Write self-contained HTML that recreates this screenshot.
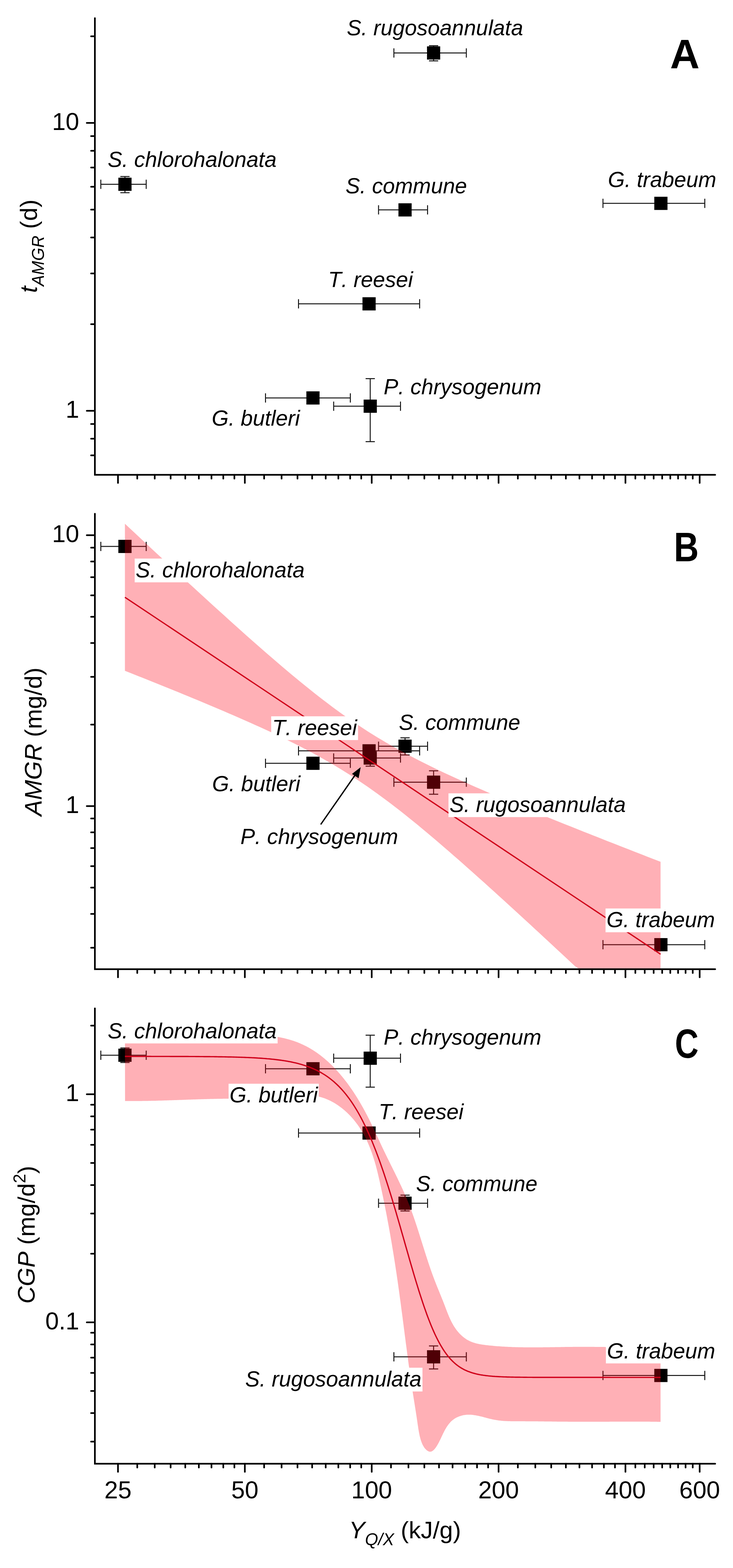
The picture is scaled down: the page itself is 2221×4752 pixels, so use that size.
<!DOCTYPE html>
<html><head><meta charset="utf-8"><title>Figure</title>
<style>html,body{margin:0;padding:0;background:#fff;}svg{display:block;}</style>
</head><body>
<svg width="2221" height="4752" viewBox="0 0 2221 4752" font-family="'Liberation Sans', Arial, sans-serif" style="font-kerning:none">
<rect width="2221" height="4752" fill="#fff"/>
<path d="M1193.5,160.5 H1413.0 M1193.5,146.5 v28 M1413.0,146.5 v28 M1313.8,138.5 V184.5 M1299.8,138.5 h28 M1299.8,184.5 h28" stroke="#1a1a1a" stroke-width="3.0" fill="none"/>
<rect x="1293.8" y="140.5" width="40" height="40" fill="#000"/>
<path d="M305.5,558.5 H443.0 M305.5,544.5 v28 M443.0,544.5 v28 M378.6,535.0 V584.0 M364.6,535.0 h28 M364.6,584.0 h28" stroke="#1a1a1a" stroke-width="3.0" fill="none"/>
<rect x="358.6" y="538.5" width="40" height="40" fill="#000"/>
<path d="M1147.0,636.1 H1295.5 M1147.0,622.1 v28 M1295.5,622.1 v28" stroke="#1a1a1a" stroke-width="3.0" fill="none"/>
<rect x="1207.3" y="616.1" width="40" height="40" fill="#000"/>
<path d="M1827.0,616.3 H2135.5 M1827.0,602.3 v28 M2135.5,602.3 v28" stroke="#1a1a1a" stroke-width="3.0" fill="none"/>
<rect x="1982.5" y="596.3" width="40" height="40" fill="#000"/>
<path d="M904.5,920.8 H1271.5 M904.5,906.8 v28 M1271.5,906.8 v28" stroke="#1a1a1a" stroke-width="3.0" fill="none"/>
<rect x="1098.3" y="900.8" width="40" height="40" fill="#000"/>
<path d="M804.5,1206.0 H1061.5 M804.5,1192.0 v28 M1061.5,1192.0 v28" stroke="#1a1a1a" stroke-width="3.0" fill="none"/>
<rect x="928.3" y="1186.0" width="40" height="40" fill="#000"/>
<path d="M1011.0,1231.0 H1213.5 M1011.0,1217.0 v28 M1213.5,1217.0 v28 M1121.8,1147.5 V1338.6 M1107.8,1147.5 h28 M1107.8,1338.6 h28" stroke="#1a1a1a" stroke-width="3.0" fill="none"/>
<rect x="1101.8" y="1211.0" width="40" height="40" fill="#000"/>
<text x="1050.8" y="107.0" font-style="italic" font-size="66.5" textLength="534.2" lengthAdjust="spacingAndGlyphs">S. rugosoannulata</text>
<text x="326.2" y="506.2" font-style="italic" font-size="66.5" textLength="512.0" lengthAdjust="spacingAndGlyphs">S. chlorohalonata</text>
<text x="1047.1" y="586.4" font-style="italic" font-size="66.5" textLength="368.0" lengthAdjust="spacingAndGlyphs">S. commune</text>
<text x="1842.0" y="567.3" font-style="italic" font-size="66.5" textLength="328.4" lengthAdjust="spacingAndGlyphs">G. trabeum</text>
<text x="994.2" y="870.3" font-style="italic" font-size="66.5" textLength="257.1" lengthAdjust="spacingAndGlyphs">T. reesei</text>
<text x="1162.6" y="1195.3" font-style="italic" font-size="66.5" textLength="477.8" lengthAdjust="spacingAndGlyphs">P. chrysogenum</text>
<text x="641.4" y="1289.8" font-style="italic" font-size="66.5" textLength="267.3" lengthAdjust="spacingAndGlyphs">G. butleri</text>
<path d="M287.5,55.0 V1439.0 H2167.0" fill="none" stroke="#000" stroke-width="5.0" stroke-linecap="round" stroke-linejoin="miter"/>
<path d="M357.5,1439.0 v24.5 M741.9,1439.0 v24.5 M1126.3,1439.0 v24.5 M1510.7,1439.0 v24.5 M1895.1,1439.0 v24.5 M2120.0,1439.0 v24.5 M415.9,1439.0 v11.5 M468.8,1439.0 v11.5 M517.0,1439.0 v11.5 M561.4,1439.0 v11.5 M602.5,1439.0 v11.5 M640.8,1439.0 v11.5 M676.6,1439.0 v11.5 M710.2,1439.0 v11.5 M800.3,1439.0 v11.5 M853.2,1439.0 v11.5 M901.4,1439.0 v11.5 M945.8,1439.0 v11.5 M986.9,1439.0 v11.5 M1025.2,1439.0 v11.5 M1061.0,1439.0 v11.5 M1094.6,1439.0 v11.5 M1184.7,1439.0 v11.5 M1237.6,1439.0 v11.5 M1285.8,1439.0 v11.5 M1330.2,1439.0 v11.5 M1371.3,1439.0 v11.5 M1409.6,1439.0 v11.5 M1445.4,1439.0 v11.5 M1479.0,1439.0 v11.5 M1569.1,1439.0 v11.5 M1622.0,1439.0 v11.5 M1670.2,1439.0 v11.5 M1714.6,1439.0 v11.5 M1755.7,1439.0 v11.5 M1794.0,1439.0 v11.5 M1829.8,1439.0 v11.5 M1863.4,1439.0 v11.5 M1925.1,1439.0 v11.5 M1953.5,1439.0 v11.5 M1980.6,1439.0 v11.5 M2006.4,1439.0 v11.5 M2031.0,1439.0 v11.5 M2054.6,1439.0 v11.5 M2077.3,1439.0 v11.5 M2099.0,1439.0 v11.5 M287.5,1380.1 h-11.5 M287.5,1329.5 h-11.5 M287.5,1284.9 h-11.5 M287.5,1245.0 h-24.5 M287.5,982.4 h-11.5 M287.5,828.8 h-11.5 M287.5,719.8 h-11.5 M287.5,635.2 h-11.5 M287.5,566.1 h-11.5 M287.5,507.7 h-11.5 M287.5,457.1 h-11.5 M287.5,412.5 h-11.5 M287.5,372.6 h-24.5 M287.5,110.0 h-11.5" stroke="#000" stroke-width="5.0" stroke-linecap="round" fill="none"/>
<text x="240" y="393.6" text-anchor="end" font-size="74">10</text>
<text x="240" y="1266.0" text-anchor="end" font-size="74">1</text>
<path d="M305.5,1656.0 H443.0 M305.5,1642.0 v28 M443.0,1642.0 v28" stroke="#1a1a1a" stroke-width="3.0" fill="none"/>
<rect x="358.6" y="1636.0" width="40" height="40" fill="#000"/>
<path d="M804.5,2313.2 H1061.5 M804.5,2299.2 v28 M1061.5,2299.2 v28" stroke="#1a1a1a" stroke-width="3.0" fill="none"/>
<rect x="928.3" y="2293.2" width="40" height="40" fill="#000"/>
<path d="M1147.0,2261.5 H1295.5 M1147.0,2247.5 v28 M1295.5,2247.5 v28 M1227.3,2236.0 V2288.0 M1213.3,2236.0 h28 M1213.3,2288.0 h28" stroke="#1a1a1a" stroke-width="3.0" fill="none"/>
<rect x="1207.3" y="2241.5" width="40" height="40" fill="#000"/>
<path d="M1193.5,2370.5 H1413.0 M1193.5,2356.5 v28 M1413.0,2356.5 v28 M1313.8,2336.0 V2407.0 M1299.8,2336.0 h28 M1299.8,2407.0 h28" stroke="#1a1a1a" stroke-width="3.0" fill="none"/>
<rect x="1293.8" y="2350.5" width="40" height="40" fill="#000"/>
<path d="M1827.0,2863.0 H2135.5 M1827.0,2849.0 v28 M2135.5,2849.0 v28" stroke="#1a1a1a" stroke-width="3.0" fill="none"/>
<rect x="1982.5" y="2843.0" width="40" height="40" fill="#000"/>
<path d="M1011.0,2297.3 H1213.5 M1011.0,2283.3 v28 M1213.5,2283.3 v28 M1121.8,2272.0 V2322.0 M1107.8,2272.0 h28 M1107.8,2322.0 h28" stroke="#1a1a1a" stroke-width="3.0" fill="none"/>
<rect x="1101.8" y="2277.3" width="40" height="40" fill="#000"/>
<path d="M904.5,2275.5 H1271.5 M904.5,2261.5 v28 M1271.5,2261.5 v28" stroke="#1a1a1a" stroke-width="3.0" fill="none"/>
<rect x="1098.3" y="2255.5" width="40" height="40" fill="#000"/>
<polygon points="378.5,1587.2 392.1,1600.0 405.8,1612.7 419.4,1625.5 433.1,1638.2 446.7,1651.0 460.3,1663.7 474.0,1676.4 487.6,1689.1 501.2,1701.8 514.9,1714.4 528.5,1727.1 542.2,1739.7 555.8,1752.3 569.4,1764.9 583.1,1777.4 596.7,1790.0 610.4,1802.5 624.0,1815.0 637.6,1827.4 651.3,1839.9 664.9,1852.3 678.6,1864.6 692.2,1877.0 705.8,1889.3 719.5,1901.5 733.1,1913.7 746.7,1925.9 760.4,1938.0 774.0,1950.0 787.7,1962.0 801.3,1973.9 814.9,1985.8 828.6,1997.6 842.2,2009.3 855.9,2020.9 869.5,2032.5 883.1,2043.9 896.8,2055.3 910.4,2066.5 924.0,2077.6 937.7,2088.6 951.3,2099.4 965.0,2110.2 978.6,2120.7 992.2,2131.1 1005.9,2141.4 1019.5,2151.5 1033.2,2161.4 1046.8,2171.1 1060.4,2180.6 1074.1,2190.0 1087.7,2199.1 1101.3,2208.1 1115.0,2216.9 1128.6,2225.5 1142.3,2233.9 1155.9,2242.1 1169.5,2250.2 1183.2,2258.1 1196.8,2265.8 1210.5,2273.4 1224.1,2280.8 1237.7,2288.1 1251.4,2295.3 1265.0,2302.3 1278.7,2309.3 1292.3,2316.1 1305.9,2322.8 1319.6,2329.4 1333.2,2335.9 1346.8,2342.4 1360.5,2348.8 1374.1,2355.1 1387.8,2361.3 1401.4,2367.5 1415.0,2373.6 1428.7,2379.7 1442.3,2385.7 1456.0,2391.6 1469.6,2397.5 1483.2,2403.4 1496.9,2409.3 1510.5,2415.1 1524.1,2420.9 1537.8,2426.6 1551.4,2432.3 1565.1,2438.0 1578.7,2443.7 1592.3,2449.3 1606.0,2454.9 1619.6,2460.5 1633.3,2466.1 1646.9,2471.6 1660.5,2477.2 1674.2,2482.7 1687.8,2488.2 1701.4,2493.7 1715.1,2499.2 1728.7,2504.6 1742.4,2510.1 1756.0,2515.5 1769.6,2520.9 1783.3,2526.3 1796.9,2531.7 1810.6,2537.1 1824.2,2542.5 1837.8,2547.9 1851.5,2553.3 1865.1,2558.6 1878.8,2564.0 1892.4,2569.3 1906.0,2574.6 1919.7,2580.0 1933.3,2585.3 1946.9,2590.6 1960.6,2595.9 1974.2,2601.2 1987.9,2606.5 2001.5,2611.8 2001.5,2937.2 2001.5,2937.2 1987.9,2937.2 1974.2,2937.2 1960.6,2937.2 1946.9,2937.2 1933.3,2937.2 1919.7,2937.2 1906.0,2937.2 1892.4,2937.2 1878.8,2937.2 1865.1,2937.2 1851.5,2937.2 1837.8,2937.2 1824.2,2937.2 1810.6,2937.2 1796.9,2937.2 1783.3,2937.2 1769.6,2937.2 1756.0,2937.2 1742.4,2928.3 1728.7,2915.5 1715.1,2902.8 1701.4,2890.1 1687.8,2877.4 1674.2,2864.7 1660.5,2852.1 1646.9,2839.4 1633.3,2826.8 1619.6,2814.2 1606.0,2801.6 1592.3,2789.0 1578.7,2776.5 1565.1,2764.0 1551.4,2751.5 1537.8,2739.0 1524.1,2726.6 1510.5,2714.2 1496.9,2701.8 1483.2,2689.5 1469.6,2677.1 1456.0,2664.9 1442.3,2652.7 1428.7,2640.5 1415.0,2628.4 1401.4,2616.3 1387.8,2604.3 1374.1,2592.4 1360.5,2580.5 1346.8,2568.7 1333.2,2556.9 1319.6,2545.3 1305.9,2533.7 1292.3,2522.3 1278.7,2510.9 1265.0,2499.6 1251.4,2488.5 1237.7,2477.5 1224.1,2466.6 1210.5,2455.8 1196.8,2445.2 1183.2,2434.8 1169.5,2424.5 1155.9,2414.4 1142.3,2404.4 1128.6,2394.7 1115.0,2385.1 1101.3,2375.7 1087.7,2366.5 1074.1,2357.4 1060.4,2348.6 1046.8,2340.0 1033.2,2331.5 1019.5,2323.2 1005.9,2315.1 992.2,2307.2 978.6,2299.4 965.0,2291.8 951.3,2284.3 937.7,2277.0 924.0,2269.8 910.4,2262.7 896.8,2255.8 883.1,2248.9 869.5,2242.2 855.9,2235.6 842.2,2229.0 828.6,2222.5 814.9,2216.1 801.3,2209.8 787.7,2203.6 774.0,2197.4 760.4,2191.3 746.7,2185.2 733.1,2179.2 719.5,2173.2 705.8,2167.3 692.2,2161.4 678.6,2155.5 664.9,2149.7 651.3,2143.9 637.6,2138.2 624.0,2132.4 610.4,2126.7 596.7,2121.1 583.1,2115.4 569.4,2109.8 555.8,2104.2 542.2,2098.6 528.5,2093.1 514.9,2087.5 501.2,2082.0 487.6,2076.5 474.0,2071.0 460.3,2065.5 446.7,2060.1 433.1,2054.6 419.4,2049.2 405.8,2043.8 392.1,2038.3 378.5,2032.9" fill="rgba(255,0,20,0.31)"/>
<line x1="378.5" y1="1810.1" x2="2001.5" y2="2891.9" stroke="#d0001a" stroke-width="3.9"/>
<rect x="408.1" y="1692.8" width="518.0" height="72" fill="#fff"/><text x="411.1" y="1749.8" font-style="italic" font-size="66.5" textLength="512.0" lengthAdjust="spacingAndGlyphs">S. chlorohalonata</text>
<rect x="821.7" y="2170.8" width="263.1" height="72" fill="#fff"/><text x="824.7" y="2227.8" font-style="italic" font-size="66.5" textLength="257.1" lengthAdjust="spacingAndGlyphs">T. reesei</text>
<text x="1208.5" y="2212.2" font-style="italic" font-size="66.5" textLength="368.0" lengthAdjust="spacingAndGlyphs">S. commune</text>
<text x="642.7" y="2397.8" font-style="italic" font-size="66.5" textLength="267.3" lengthAdjust="spacingAndGlyphs">G. butleri</text>
<rect x="1358.9" y="2404.3" width="540.2" height="72" fill="#fff"/><text x="1361.9" y="2461.3" font-style="italic" font-size="66.5" textLength="534.2" lengthAdjust="spacingAndGlyphs">S. rugosoannulata</text>
<text x="728.5" y="2558.0" font-style="italic" font-size="66.5" textLength="477.8" lengthAdjust="spacingAndGlyphs">P. chrysogenum</text>
<rect x="1834.8" y="2753.3" width="334.4" height="72" fill="#fff"/><text x="1837.8" y="2810.3" font-style="italic" font-size="66.5" textLength="328.4" lengthAdjust="spacingAndGlyphs">G. trabeum</text>
<line x1="971.8" y1="2498.7" x2="1078" y2="2346" stroke="#000" stroke-width="4"/>
<polygon points="1092.9,2325.1 1066.5,2345.5 1086.5,2358.5" fill="#000"/>
<path d="M287.5,1557.0 V2937.2 H2167.0" fill="none" stroke="#000" stroke-width="5.0" stroke-linecap="round" stroke-linejoin="miter"/>
<path d="M357.5,2937.2 v24.5 M741.9,2937.2 v24.5 M1126.3,2937.2 v24.5 M1510.7,2937.2 v24.5 M1895.1,2937.2 v24.5 M2120.0,2937.2 v24.5 M415.9,2937.2 v11.5 M468.8,2937.2 v11.5 M517.0,2937.2 v11.5 M561.4,2937.2 v11.5 M602.5,2937.2 v11.5 M640.8,2937.2 v11.5 M676.6,2937.2 v11.5 M710.2,2937.2 v11.5 M800.3,2937.2 v11.5 M853.2,2937.2 v11.5 M901.4,2937.2 v11.5 M945.8,2937.2 v11.5 M986.9,2937.2 v11.5 M1025.2,2937.2 v11.5 M1061.0,2937.2 v11.5 M1094.6,2937.2 v11.5 M1184.7,2937.2 v11.5 M1237.6,2937.2 v11.5 M1285.8,2937.2 v11.5 M1330.2,2937.2 v11.5 M1371.3,2937.2 v11.5 M1409.6,2937.2 v11.5 M1445.4,2937.2 v11.5 M1479.0,2937.2 v11.5 M1569.1,2937.2 v11.5 M1622.0,2937.2 v11.5 M1670.2,2937.2 v11.5 M1714.6,2937.2 v11.5 M1755.7,2937.2 v11.5 M1794.0,2937.2 v11.5 M1829.8,2937.2 v11.5 M1863.4,2937.2 v11.5 M1925.1,2937.2 v11.5 M1953.5,2937.2 v11.5 M1980.6,2937.2 v11.5 M2006.4,2937.2 v11.5 M2031.0,2937.2 v11.5 M2054.6,2937.2 v11.5 M2077.3,2937.2 v11.5 M2099.0,2937.2 v11.5 M287.5,2872.2 h-11.5 M287.5,2769.7 h-11.5 M287.5,2690.1 h-11.5 M287.5,2625.1 h-11.5 M287.5,2570.2 h-11.5 M287.5,2522.6 h-11.5 M287.5,2480.6 h-11.5 M287.5,2443.0 h-24.5 M287.5,2195.9 h-11.5 M287.5,2051.3 h-11.5 M287.5,1948.8 h-11.5 M287.5,1869.2 h-11.5 M287.5,1804.2 h-11.5 M287.5,1749.3 h-11.5 M287.5,1701.7 h-11.5 M287.5,1659.7 h-11.5 M287.5,1622.1 h-24.5" stroke="#000" stroke-width="5.0" stroke-linecap="round" fill="none"/>
<text x="240" y="1643.1" text-anchor="end" font-size="74">10</text>
<text x="240" y="2464.0" text-anchor="end" font-size="74">1</text>
<path d="M305.5,3198.0 H443.0 M305.5,3184.0 v28 M443.0,3184.0 v28 M378.6,3176.0 V3220.0 M364.6,3176.0 h28 M364.6,3220.0 h28" stroke="#1a1a1a" stroke-width="3.0" fill="none"/>
<rect x="358.6" y="3178.0" width="40" height="40" fill="#000"/>
<path d="M804.5,3239.0 H1061.5 M804.5,3225.0 v28 M1061.5,3225.0 v28" stroke="#1a1a1a" stroke-width="3.0" fill="none"/>
<rect x="928.3" y="3219.0" width="40" height="40" fill="#000"/>
<path d="M1011.0,3207.0 H1213.5 M1011.0,3193.0 v28 M1213.5,3193.0 v28 M1121.8,3137.2 V3294.8 M1107.8,3137.2 h28 M1107.8,3294.8 h28" stroke="#1a1a1a" stroke-width="3.0" fill="none"/>
<rect x="1101.8" y="3187.0" width="40" height="40" fill="#000"/>
<path d="M904.5,3433.8 H1271.5 M904.5,3419.8 v28 M1271.5,3419.8 v28" stroke="#1a1a1a" stroke-width="3.0" fill="none"/>
<rect x="1098.3" y="3413.8" width="40" height="40" fill="#000"/>
<path d="M1147.0,3646.5 H1295.5 M1147.0,3632.5 v28 M1295.5,3632.5 v28 M1227.3,3622.0 V3670.0 M1213.3,3622.0 h28 M1213.3,3670.0 h28" stroke="#1a1a1a" stroke-width="3.0" fill="none"/>
<rect x="1207.3" y="3626.5" width="40" height="40" fill="#000"/>
<path d="M1193.5,4112.0 H1413.0 M1193.5,4098.0 v28 M1413.0,4098.0 v28 M1313.8,4079.0 V4148.7 M1299.8,4079.0 h28 M1299.8,4148.7 h28" stroke="#1a1a1a" stroke-width="3.0" fill="none"/>
<rect x="1293.8" y="4092.0" width="40" height="40" fill="#000"/>
<path d="M1827.0,4168.5 H2135.5 M1827.0,4154.5 v28 M2135.5,4154.5 v28" stroke="#1a1a1a" stroke-width="3.0" fill="none"/>
<rect x="1982.5" y="4148.5" width="40" height="40" fill="#000"/>
<path d="M378.6,3136.0 L381.6,3135.8 L384.6,3135.7 L387.6,3135.6 L390.6,3135.4 L393.6,3135.3 L396.6,3135.2 L399.6,3135.1 L402.6,3135.0 L405.5,3134.9 L408.5,3134.9 L411.5,3134.8 L414.5,3134.7 L417.5,3134.6 L420.5,3134.6 L423.5,3134.5 L426.5,3134.5 L429.5,3134.5 L432.5,3134.4 L435.6,3134.4 L438.6,3134.4 L441.6,3134.3 L444.6,3134.3 L447.6,3134.3 L450.6,3134.3 L453.6,3134.3 L456.6,3134.3 L459.6,3134.3 L462.6,3134.3 L465.6,3134.3 L468.6,3134.4 L471.6,3134.4 L474.6,3134.4 L477.7,3134.4 L480.7,3134.5 L483.7,3134.5 L486.7,3134.5 L489.7,3134.6 L492.7,3134.6 L495.7,3134.6 L498.7,3134.7 L501.7,3134.7 L504.8,3134.8 L507.8,3134.8 L510.8,3134.9 L513.8,3134.9 L516.8,3135.0 L519.8,3135.0 L522.8,3135.1 L525.8,3135.1 L528.9,3135.2 L531.9,3135.2 L534.9,3135.3 L537.9,3135.3 L540.9,3135.4 L543.9,3135.4 L546.9,3135.5 L549.9,3135.6 L552.9,3135.6 L556.0,3135.7 L559.0,3135.7 L562.0,3135.8 L565.0,3135.8 L568.0,3135.8 L571.0,3135.9 L574.0,3135.9 L577.0,3136.0 L580.0,3136.0 L583.1,3136.0 L586.1,3136.1 L589.1,3136.1 L592.1,3136.1 L595.1,3136.1 L598.1,3136.2 L601.1,3136.2 L604.1,3136.2 L607.1,3136.2 L610.1,3136.2 L613.1,3136.2 L616.1,3136.2 L619.1,3136.2 L622.1,3136.2 L625.1,3136.2 L628.1,3136.2 L631.1,3136.1 L634.1,3136.1 L637.1,3136.1 L640.1,3136.0 L643.1,3136.0 L646.1,3135.9 L649.1,3135.9 L652.1,3135.8 L655.1,3135.8 L658.1,3135.7 L661.1,3135.6 L664.1,3135.5 L667.1,3135.5 L670.1,3135.4 L673.1,3135.3 L676.1,3135.3 L679.1,3135.2 L682.1,3135.1 L685.1,3135.0 L688.1,3135.0 L691.1,3134.9 L694.0,3134.8 L697.0,3134.8 L700.0,3134.7 L703.0,3134.6 L706.0,3134.6 L709.0,3134.5 L712.0,3134.5 L715.0,3134.5 L718.0,3134.4 L721.0,3134.4 L724.0,3134.4 L727.0,3134.3 L730.0,3134.3 L733.0,3134.3 L736.0,3134.3 L739.0,3134.3 L742.0,3134.4 L745.1,3134.4 L748.1,3134.4 L751.1,3134.5 L754.1,3134.5 L757.1,3134.6 L760.1,3134.7 L763.1,3134.8 L766.1,3134.9 L769.2,3135.0 L772.2,3135.1 L775.2,3135.3 L778.2,3135.4 L781.3,3135.6 L784.3,3135.8 L787.3,3136.0 L790.3,3136.2 L793.4,3136.4 L796.4,3136.7 L799.4,3136.9 L802.5,3137.2 L805.5,3137.5 L808.5,3137.8 L811.5,3138.2 L814.5,3138.5 L817.5,3138.9 L820.6,3139.3 L823.6,3139.7 L826.6,3140.1 L829.6,3140.5 L832.6,3141.0 L835.5,3141.5 L838.5,3142.0 L841.5,3142.5 L844.5,3143.1 L847.4,3143.6 L850.4,3144.2 L853.3,3144.8 L856.3,3145.5 L859.2,3146.1 L862.1,3146.8 L865.0,3147.5 L867.9,3148.3 L870.8,3149.0 L873.7,3149.8 L876.6,3150.6 L879.4,3151.5 L882.3,3152.3 L885.1,3153.2 L888.0,3154.1 L890.8,3155.1 L893.6,3156.0 L896.4,3157.0 L899.1,3158.1 L901.9,3159.1 L904.6,3160.2 L907.4,3161.3 L910.1,3162.5 L912.8,3163.7 L915.5,3164.9 L918.1,3166.1 L920.8,3167.4 L923.4,3168.7 L926.1,3170.0 L928.7,3171.3 L931.3,3172.7 L933.8,3174.1 L936.4,3175.6 L939.0,3177.0 L941.5,3178.5 L944.0,3180.0 L946.5,3181.6 L949.0,3183.1 L951.5,3184.7 L954.0,3186.3 L956.4,3188.0 L958.8,3189.6 L961.3,3191.3 L963.7,3193.0 L966.0,3194.8 L968.4,3196.5 L970.8,3198.3 L973.1,3200.1 L975.5,3201.9 L977.8,3203.8 L980.1,3205.7 L982.4,3207.6 L984.7,3209.5 L986.9,3211.4 L989.2,3213.4 L991.4,3215.3 L993.6,3217.3 L995.8,3219.3 L998.0,3221.4 L1000.2,3223.4 L1002.4,3225.5 L1004.5,3227.6 L1006.7,3229.7 L1008.8,3231.8 L1010.9,3234.0 L1013.0,3236.1 L1015.1,3238.3 L1017.2,3240.5 L1019.2,3242.7 L1021.3,3245.0 L1023.3,3247.2 L1025.3,3249.5 L1027.3,3251.7 L1029.3,3254.0 L1031.3,3256.3 L1033.2,3258.7 L1035.2,3261.0 L1037.1,3263.3 L1039.0,3265.7 L1041.0,3268.1 L1042.9,3270.5 L1044.7,3272.9 L1046.6,3275.3 L1048.5,3277.7 L1050.3,3280.1 L1052.2,3282.6 L1054.0,3285.0 L1055.8,3287.5 L1057.6,3290.0 L1059.4,3292.5 L1061.1,3295.0 L1062.9,3297.5 L1064.6,3300.0 L1066.4,3302.5 L1068.1,3305.0 L1069.8,3307.6 L1071.5,3310.1 L1073.2,3312.7 L1074.8,3315.3 L1076.5,3317.8 L1078.1,3320.4 L1079.8,3323.0 L1081.4,3325.6 L1083.0,3328.2 L1084.6,3330.8 L1086.2,3333.4 L1087.8,3336.0 L1089.3,3338.7 L1090.9,3341.3 L1092.4,3343.9 L1093.9,3346.5 L1095.4,3349.2 L1096.9,3351.8 L1098.4,3354.5 L1099.9,3357.1 L1101.4,3359.8 L1102.8,3362.4 L1104.3,3365.1 L1105.7,3367.7 L1107.1,3370.4 L1108.5,3373.0 L1109.9,3375.7 L1111.3,3378.3 L1112.7,3381.0 L1114.1,3383.7 L1115.4,3386.3 L1116.8,3389.0 L1118.1,3391.6 L1119.4,3394.3 L1120.7,3397.0 L1122.0,3399.6 L1123.4,3402.3 L1124.6,3404.9 L1125.9,3407.6 L1127.2,3410.3 L1128.5,3412.9 L1129.8,3415.6 L1131.0,3418.3 L1132.3,3420.9 L1133.6,3423.6 L1134.8,3426.3 L1136.1,3428.9 L1137.3,3431.6 L1138.6,3434.3 L1139.8,3436.9 L1141.0,3439.6 L1142.3,3442.3 L1143.5,3445.0 L1144.8,3447.6 L1146.0,3450.3 L1147.2,3453.0 L1148.5,3455.6 L1149.7,3458.3 L1150.9,3461.0 L1152.2,3463.7 L1153.4,3466.3 L1154.7,3469.0 L1155.9,3471.7 L1157.2,3474.4 L1158.4,3477.0 L1159.7,3479.7 L1161.0,3482.4 L1162.2,3485.1 L1163.5,3487.8 L1164.8,3490.4 L1166.1,3493.1 L1167.4,3495.8 L1168.7,3498.5 L1170.0,3501.2 L1171.3,3503.8 L1172.6,3506.5 L1173.9,3509.2 L1175.2,3511.9 L1176.6,3514.6 L1177.9,3517.3 L1179.2,3520.0 L1180.5,3522.6 L1181.9,3525.3 L1183.2,3528.0 L1184.5,3530.7 L1185.9,3533.4 L1187.2,3536.1 L1188.5,3538.8 L1189.9,3541.5 L1191.2,3544.2 L1192.6,3546.9 L1193.9,3549.6 L1195.2,3552.3 L1196.6,3555.0 L1197.9,3557.7 L1199.2,3560.4 L1200.5,3563.1 L1201.9,3565.9 L1203.2,3568.6 L1204.5,3571.3 L1205.8,3574.0 L1207.1,3576.7 L1208.4,3579.5 L1209.7,3582.2 L1211.0,3584.9 L1212.3,3587.7 L1213.6,3590.4 L1214.9,3593.1 L1216.2,3595.9 L1217.4,3598.6 L1218.7,3601.4 L1220.0,3604.1 L1221.2,3606.9 L1222.4,3609.6 L1223.7,3612.4 L1224.9,3615.1 L1226.1,3617.9 L1227.3,3620.7 L1228.5,3623.4 L1229.7,3626.2 L1230.9,3629.0 L1232.0,3631.8 L1233.2,3634.6 L1234.3,3637.4 L1235.5,3640.1 L1236.6,3642.9 L1237.7,3645.7 L1238.8,3648.5 L1239.9,3651.4 L1241.0,3654.2 L1242.1,3657.0 L1243.1,3659.8 L1244.2,3662.6 L1245.2,3665.4 L1246.3,3668.3 L1247.3,3671.1 L1248.3,3673.9 L1249.4,3676.7 L1250.4,3679.6 L1251.4,3682.4 L1252.4,3685.2 L1253.4,3688.1 L1254.4,3690.9 L1255.3,3693.8 L1256.3,3696.6 L1257.3,3699.5 L1258.2,3702.3 L1259.2,3705.2 L1260.1,3708.0 L1261.1,3710.9 L1262.0,3713.7 L1263.0,3716.6 L1263.9,3719.4 L1264.8,3722.3 L1265.7,3725.2 L1266.7,3728.0 L1267.6,3730.9 L1268.5,3733.8 L1269.4,3736.6 L1270.3,3739.5 L1271.2,3742.3 L1272.1,3745.2 L1273.0,3748.1 L1273.9,3750.9 L1274.8,3753.8 L1275.7,3756.7 L1276.6,3759.5 L1277.5,3762.4 L1278.4,3765.3 L1279.3,3768.1 L1280.2,3771.0 L1281.1,3773.9 L1282.0,3776.7 L1282.9,3779.6 L1283.8,3782.5 L1284.7,3785.3 L1285.6,3788.2 L1286.5,3791.1 L1287.4,3793.9 L1288.3,3796.8 L1289.2,3799.6 L1290.1,3802.5 L1291.0,3805.4 L1292.0,3808.2 L1292.9,3811.1 L1293.8,3813.9 L1294.7,3816.8 L1295.7,3819.6 L1296.6,3822.5 L1297.5,3825.3 L1298.5,3828.2 L1299.4,3831.0 L1300.4,3833.8 L1301.3,3836.7 L1302.3,3839.5 L1303.3,3842.3 L1304.2,3845.2 L1305.2,3848.0 L1306.2,3850.8 L1307.2,3853.7 L1308.2,3856.5 L1309.2,3859.3 L1310.2,3862.1 L1311.3,3864.9 L1312.3,3867.7 L1313.3,3870.5 L1314.4,3873.3 L1315.4,3876.1 L1316.5,3878.9 L1317.6,3881.7 L1318.7,3884.5 L1319.8,3887.3 L1320.8,3890.1 L1322.0,3892.9 L1323.1,3895.7 L1324.2,3898.4 L1325.3,3901.2 L1326.4,3904.0 L1327.6,3906.8 L1328.7,3909.5 L1329.8,3912.3 L1331.0,3915.1 L1332.1,3917.9 L1333.2,3920.7 L1334.4,3923.5 L1335.5,3926.3 L1336.6,3929.1 L1337.8,3931.9 L1338.9,3934.7 L1340.0,3937.5 L1341.2,3940.3 L1342.3,3943.1 L1343.4,3945.9 L1344.5,3948.8 L1345.6,3951.6 L1346.7,3954.4 L1347.8,3957.3 L1348.9,3960.2 L1350.0,3963.0 L1351.0,3965.9 L1352.1,3968.8 L1353.2,3971.6 L1354.3,3974.5 L1355.4,3977.3 L1356.6,3980.2 L1357.7,3983.0 L1358.9,3985.8 L1360.0,3988.7 L1361.2,3991.5 L1362.5,3994.3 L1363.7,3997.0 L1365.0,3999.8 L1366.3,4002.5 L1367.7,4005.3 L1369.1,4007.9 L1370.5,4010.6 L1372.0,4013.3 L1373.5,4015.9 L1375.0,4018.5 L1376.6,4021.0 L1378.3,4023.5 L1380.0,4026.0 L1381.7,4028.5 L1383.5,4030.9 L1385.3,4033.2 L1387.2,4035.5 L1389.1,4037.8 L1391.1,4040.0 L1393.1,4042.2 L1395.2,4044.3 L1397.3,4046.3 L1399.4,4048.3 L1401.6,4050.2 L1403.9,4052.1 L1406.2,4053.9 L1408.5,4055.6 L1410.9,4057.3 L1413.3,4058.9 L1415.7,4060.4 L1418.2,4061.8 L1420.8,4063.1 L1423.4,4064.4 L1426.0,4065.6 L1428.7,4066.7 L1431.4,4067.7 L1434.2,4068.7 L1436.9,4069.6 L1439.8,4070.4 L1442.6,4071.2 L1445.5,4071.9 L1448.4,4072.5 L1451.3,4073.2 L1454.2,4073.7 L1457.2,4074.3 L1460.1,4074.7 L1463.1,4075.2 L1466.1,4075.6 L1469.1,4076.0 L1472.1,4076.4 L1475.2,4076.8 L1478.2,4077.1 L1481.2,4077.4 L1484.2,4077.7 L1487.2,4078.0 L1490.3,4078.3 L1493.3,4078.6 L1496.3,4078.9 L1499.3,4079.2 L1502.3,4079.4 L1505.4,4079.7 L1508.4,4079.9 L1511.4,4080.1 L1514.4,4080.3 L1517.4,4080.5 L1520.4,4080.7 L1523.5,4080.9 L1526.5,4081.1 L1529.5,4081.3 L1532.5,4081.4 L1535.5,4081.6 L1538.5,4081.7 L1541.5,4081.9 L1544.5,4082.0 L1547.6,4082.1 L1550.6,4082.3 L1553.6,4082.4 L1556.6,4082.5 L1559.6,4082.6 L1562.6,4082.7 L1565.6,4082.8 L1568.6,4082.8 L1571.6,4082.9 L1574.6,4083.0 L1577.7,4083.0 L1580.7,4083.1 L1583.7,4083.1 L1586.7,4083.2 L1589.7,4083.2 L1592.7,4083.2 L1595.7,4083.3 L1598.7,4083.3 L1601.7,4083.3 L1604.7,4083.3 L1607.7,4083.3 L1610.7,4083.3 L1613.7,4083.3 L1616.7,4083.3 L1619.8,4083.3 L1622.8,4083.3 L1625.8,4083.3 L1628.8,4083.3 L1631.8,4083.3 L1634.8,4083.2 L1637.8,4083.2 L1640.8,4083.2 L1643.8,4083.2 L1646.8,4083.1 L1649.8,4083.1 L1652.8,4083.1 L1655.8,4083.0 L1658.8,4083.0 L1661.8,4082.9 L1664.8,4082.9 L1667.8,4082.8 L1670.8,4082.8 L1673.8,4082.8 L1676.8,4082.7 L1679.8,4082.7 L1682.8,4082.6 L1685.8,4082.6 L1688.8,4082.5 L1691.8,4082.5 L1694.9,4082.4 L1697.9,4082.4 L1700.9,4082.3 L1703.9,4082.3 L1706.9,4082.2 L1709.9,4082.2 L1712.9,4082.1 L1715.9,4082.1 L1718.9,4082.0 L1721.9,4082.0 L1724.9,4082.0 L1727.9,4081.9 L1730.9,4081.9 L1733.9,4081.9 L1736.9,4081.8 L1739.9,4081.8 L1742.9,4081.8 L1745.9,4081.8 L1748.9,4081.7 L1751.9,4081.7 L1754.9,4081.7 L1757.9,4081.7 L1760.9,4081.7 L1764.0,4081.7 L1767.0,4081.7 L1770.0,4081.7 L1773.0,4081.7 L1776.0,4081.7 L1779.0,4081.7 L1782.0,4081.7 L1785.0,4081.7 L1788.0,4081.8 L1791.0,4081.8 L1794.0,4081.8 L1797.0,4081.8 L1800.0,4081.8 L1803.0,4081.9 L1806.1,4081.9 L1809.1,4081.9 L1812.1,4081.9 L1815.1,4082.0 L1818.1,4082.0 L1821.1,4082.0 L1824.1,4082.1 L1827.1,4082.1 L1830.1,4082.1 L1833.1,4082.2 L1836.1,4082.2 L1839.1,4082.2 L1842.1,4082.3 L1845.2,4082.3 L1848.2,4082.3 L1851.2,4082.4 L1854.2,4082.4 L1857.2,4082.4 L1860.2,4082.5 L1863.2,4082.5 L1866.2,4082.5 L1869.2,4082.6 L1872.2,4082.6 L1875.2,4082.6 L1878.2,4082.7 L1881.2,4082.7 L1884.3,4082.7 L1887.3,4082.7 L1890.3,4082.8 L1893.3,4082.8 L1896.3,4082.8 L1899.3,4082.8 L1902.3,4082.8 L1905.3,4082.8 L1908.3,4082.9 L1911.3,4082.9 L1914.3,4082.9 L1917.3,4082.9 L1920.3,4082.9 L1923.4,4082.9 L1926.4,4082.9 L1929.4,4082.9 L1932.4,4082.9 L1935.4,4082.9 L1938.4,4082.9 L1941.4,4082.8 L1944.4,4082.8 L1947.4,4082.8 L1950.4,4082.8 L1953.4,4082.7 L1956.4,4082.7 L1959.4,4082.7 L1962.4,4082.6 L1965.4,4082.6 L1968.4,4082.5 L1971.4,4082.5 L1974.4,4082.4 L1977.4,4082.4 L1980.5,4082.3 L1983.5,4082.2 L1986.5,4082.2 L1989.5,4082.1 L1992.5,4082.0 L1995.5,4081.9 L1998.5,4081.8 L2001.5,4081.7 L2001.5,4309.0 L1998.5,4308.9 L1995.5,4308.9 L1992.5,4308.9 L1989.5,4308.8 L1986.5,4308.8 L1983.5,4308.8 L1980.5,4308.7 L1977.5,4308.7 L1974.5,4308.7 L1971.4,4308.7 L1968.4,4308.6 L1965.4,4308.6 L1962.4,4308.6 L1959.4,4308.6 L1956.4,4308.6 L1953.4,4308.5 L1950.4,4308.5 L1947.4,4308.5 L1944.4,4308.5 L1941.4,4308.5 L1938.4,4308.5 L1935.4,4308.5 L1932.4,4308.5 L1929.4,4308.5 L1926.4,4308.5 L1923.4,4308.5 L1920.4,4308.5 L1917.4,4308.5 L1914.3,4308.5 L1911.3,4308.5 L1908.3,4308.5 L1905.3,4308.5 L1902.3,4308.5 L1899.3,4308.5 L1896.3,4308.5 L1893.3,4308.5 L1890.3,4308.5 L1887.3,4308.5 L1884.3,4308.5 L1881.3,4308.5 L1878.3,4308.5 L1875.3,4308.6 L1872.3,4308.6 L1869.3,4308.6 L1866.3,4308.6 L1863.2,4308.6 L1860.2,4308.6 L1857.2,4308.6 L1854.2,4308.6 L1851.2,4308.6 L1848.2,4308.6 L1845.2,4308.7 L1842.2,4308.7 L1839.2,4308.7 L1836.2,4308.7 L1833.2,4308.7 L1830.2,4308.7 L1827.2,4308.7 L1824.2,4308.7 L1821.2,4308.7 L1818.2,4308.8 L1815.1,4308.8 L1812.1,4308.8 L1809.1,4308.8 L1806.1,4308.8 L1803.1,4308.8 L1800.1,4308.8 L1797.1,4308.8 L1794.1,4308.8 L1791.1,4308.8 L1788.1,4308.8 L1785.1,4308.8 L1782.1,4308.8 L1779.1,4308.8 L1776.1,4308.8 L1773.1,4308.8 L1770.1,4308.8 L1767.1,4308.8 L1764.0,4308.8 L1761.0,4308.8 L1758.0,4308.8 L1755.0,4308.8 L1752.0,4308.8 L1749.0,4308.8 L1746.0,4308.8 L1743.0,4308.8 L1740.0,4308.8 L1737.0,4308.8 L1734.0,4308.7 L1731.0,4308.7 L1728.0,4308.7 L1725.0,4308.7 L1722.0,4308.7 L1719.0,4308.6 L1716.0,4308.6 L1713.0,4308.6 L1710.0,4308.6 L1707.0,4308.5 L1704.0,4308.5 L1700.9,4308.5 L1697.9,4308.4 L1694.9,4308.4 L1691.9,4308.4 L1688.9,4308.4 L1685.9,4308.3 L1682.9,4308.3 L1679.9,4308.2 L1676.9,4308.2 L1673.9,4308.2 L1670.9,4308.1 L1667.9,4308.1 L1664.9,4308.1 L1661.9,4308.0 L1658.9,4308.0 L1655.9,4308.0 L1652.9,4307.9 L1649.9,4307.9 L1646.9,4307.8 L1643.9,4307.8 L1640.9,4307.8 L1637.9,4307.7 L1634.8,4307.7 L1631.8,4307.7 L1628.8,4307.6 L1625.8,4307.6 L1622.8,4307.6 L1619.8,4307.5 L1616.8,4307.5 L1613.8,4307.5 L1610.8,4307.5 L1607.8,4307.4 L1604.8,4307.4 L1601.8,4307.4 L1598.8,4307.4 L1595.8,4307.4 L1592.8,4307.4 L1589.7,4307.3 L1586.7,4307.3 L1583.7,4307.3 L1580.7,4307.3 L1577.7,4307.3 L1574.7,4307.3 L1571.7,4307.3 L1568.7,4307.3 L1565.7,4307.3 L1562.7,4307.3 L1559.6,4307.3 L1556.6,4307.3 L1553.6,4307.3 L1550.6,4307.2 L1547.6,4307.2 L1544.6,4307.1 L1541.6,4307.1 L1538.6,4307.0 L1535.6,4306.8 L1532.6,4306.7 L1529.6,4306.5 L1526.6,4306.4 L1523.6,4306.1 L1520.6,4305.9 L1517.7,4305.6 L1514.7,4305.3 L1511.7,4304.9 L1508.7,4304.5 L1505.8,4304.1 L1502.8,4303.6 L1499.8,4303.1 L1496.9,4302.6 L1493.9,4302.0 L1491.0,4301.3 L1488.0,4300.6 L1485.1,4299.9 L1482.2,4299.2 L1479.2,4298.4 L1476.3,4297.7 L1473.4,4296.9 L1470.4,4296.1 L1467.5,4295.4 L1464.6,4294.6 L1461.7,4293.8 L1458.7,4293.1 L1455.8,4292.4 L1452.9,4291.7 L1450.0,4291.0 L1447.1,4290.4 L1444.2,4289.9 L1441.3,4289.3 L1438.3,4288.9 L1435.4,4288.4 L1432.5,4288.1 L1429.6,4287.8 L1426.7,4287.6 L1423.8,4287.5 L1420.9,4287.4 L1417.9,4287.5 L1415.0,4287.6 L1412.1,4287.8 L1409.2,4288.2 L1406.2,4288.6 L1403.3,4289.1 L1400.5,4289.8 L1397.6,4290.5 L1394.8,4291.4 L1392.0,4292.3 L1389.2,4293.4 L1386.6,4294.5 L1383.9,4295.7 L1381.4,4297.1 L1378.9,4298.5 L1376.5,4300.0 L1374.2,4301.7 L1371.9,4303.4 L1369.7,4305.2 L1367.7,4307.1 L1365.6,4309.1 L1363.7,4311.2 L1361.8,4313.4 L1360.0,4315.6 L1358.2,4317.9 L1356.5,4320.3 L1354.8,4322.8 L1353.1,4325.3 L1351.5,4327.9 L1350.0,4330.6 L1348.4,4333.3 L1346.9,4336.1 L1345.5,4338.9 L1344.0,4341.8 L1342.5,4344.7 L1341.1,4347.7 L1339.7,4350.7 L1338.2,4353.8 L1336.8,4356.9 L1335.4,4359.9 L1333.9,4363.0 L1332.4,4366.0 L1330.9,4369.1 L1329.4,4372.0 L1327.8,4375.0 L1326.2,4377.8 L1324.6,4380.6 L1322.9,4383.3 L1321.1,4385.9 L1319.3,4388.4 L1317.5,4390.7 L1315.5,4392.9 L1313.6,4394.8 L1311.6,4396.4 L1309.6,4397.8 L1307.6,4398.8 L1305.5,4399.4 L1303.5,4399.6 L1301.5,4399.4 L1299.5,4398.9 L1297.6,4398.1 L1295.7,4397.0 L1293.8,4395.7 L1292.0,4394.3 L1290.3,4392.6 L1288.6,4390.8 L1287.0,4388.9 L1285.5,4386.9 L1284.1,4384.8 L1282.8,4382.6 L1281.5,4380.3 L1280.3,4377.9 L1279.2,4375.4 L1278.1,4372.9 L1277.1,4370.3 L1276.1,4367.6 L1275.2,4364.8 L1274.3,4362.0 L1273.5,4359.1 L1272.8,4356.2 L1272.0,4353.2 L1271.3,4350.2 L1270.7,4347.1 L1270.1,4344.0 L1269.5,4340.9 L1268.9,4337.8 L1268.4,4334.6 L1267.8,4331.4 L1267.3,4328.2 L1266.9,4325.0 L1266.4,4321.8 L1265.9,4318.6 L1265.4,4315.4 L1265.0,4312.2 L1264.5,4309.1 L1264.1,4305.9 L1263.6,4302.8 L1263.1,4299.7 L1262.7,4296.6 L1262.2,4293.5 L1261.8,4290.4 L1261.3,4287.4 L1260.8,4284.3 L1260.3,4281.3 L1259.9,4278.3 L1259.4,4275.3 L1258.9,4272.3 L1258.5,4269.3 L1258.0,4266.3 L1257.5,4263.4 L1257.1,4260.4 L1256.6,4257.5 L1256.1,4254.5 L1255.7,4251.6 L1255.2,4248.7 L1254.7,4245.8 L1254.3,4242.8 L1253.8,4239.9 L1253.3,4237.0 L1252.9,4234.1 L1252.4,4231.2 L1252.0,4228.3 L1251.5,4225.4 L1251.0,4222.5 L1250.6,4219.6 L1250.1,4216.6 L1249.7,4213.7 L1249.2,4210.8 L1248.8,4207.9 L1248.4,4205.0 L1247.9,4202.1 L1247.5,4199.1 L1247.0,4196.2 L1246.6,4193.3 L1246.2,4190.4 L1245.7,4187.4 L1245.3,4184.5 L1244.9,4181.6 L1244.5,4178.6 L1244.0,4175.7 L1243.6,4172.7 L1243.2,4169.8 L1242.8,4166.9 L1242.3,4163.9 L1241.9,4161.0 L1241.5,4158.0 L1241.1,4155.1 L1240.7,4152.1 L1240.3,4149.2 L1239.9,4146.2 L1239.5,4143.2 L1239.0,4140.3 L1238.6,4137.3 L1238.2,4134.4 L1237.8,4131.4 L1237.4,4128.4 L1237.0,4125.5 L1236.6,4122.5 L1236.2,4119.5 L1235.8,4116.6 L1235.4,4113.6 L1235.0,4110.6 L1234.6,4107.6 L1234.2,4104.7 L1233.8,4101.7 L1233.4,4098.7 L1233.0,4095.7 L1232.7,4092.8 L1232.3,4089.8 L1231.9,4086.8 L1231.5,4083.8 L1231.1,4080.8 L1230.7,4077.9 L1230.3,4074.9 L1229.9,4071.9 L1229.5,4068.9 L1229.1,4065.9 L1228.8,4062.9 L1228.4,4060.0 L1228.0,4057.0 L1227.6,4054.0 L1227.2,4051.0 L1226.8,4048.0 L1226.4,4045.0 L1226.0,4042.0 L1225.7,4039.0 L1225.3,4036.0 L1224.9,4033.0 L1224.5,4030.0 L1224.1,4027.1 L1223.7,4024.1 L1223.3,4021.1 L1223.0,4018.1 L1222.6,4015.1 L1222.2,4012.1 L1221.8,4009.1 L1221.4,4006.1 L1221.0,4003.1 L1220.6,4000.1 L1220.2,3997.1 L1219.9,3994.1 L1219.5,3991.1 L1219.1,3988.1 L1218.7,3985.1 L1218.3,3982.1 L1217.9,3979.1 L1217.5,3976.2 L1217.1,3973.2 L1216.7,3970.2 L1216.3,3967.2 L1215.9,3964.2 L1215.5,3961.2 L1215.1,3958.2 L1214.8,3955.2 L1214.4,3952.2 L1214.0,3949.2 L1213.6,3946.2 L1213.2,3943.2 L1212.8,3940.2 L1212.3,3937.3 L1211.9,3934.3 L1211.5,3931.3 L1211.1,3928.3 L1210.7,3925.3 L1210.3,3922.3 L1209.9,3919.3 L1209.5,3916.4 L1209.1,3913.4 L1208.7,3910.4 L1208.3,3907.4 L1207.8,3904.4 L1207.4,3901.4 L1207.0,3898.5 L1206.6,3895.5 L1206.2,3892.5 L1205.7,3889.5 L1205.3,3886.6 L1204.9,3883.6 L1204.5,3880.6 L1204.0,3877.6 L1203.6,3874.7 L1203.2,3871.7 L1202.7,3868.7 L1202.3,3865.7 L1201.9,3862.8 L1201.4,3859.8 L1201.0,3856.8 L1200.5,3853.9 L1200.1,3850.9 L1199.6,3847.9 L1199.2,3845.0 L1198.7,3842.0 L1198.3,3839.1 L1197.8,3836.1 L1197.4,3833.1 L1196.9,3830.2 L1196.5,3827.2 L1196.0,3824.3 L1195.5,3821.3 L1195.1,3818.3 L1194.6,3815.4 L1194.1,3812.4 L1193.7,3809.5 L1193.2,3806.5 L1192.7,3803.6 L1192.2,3800.6 L1191.8,3797.7 L1191.3,3794.7 L1190.8,3791.8 L1190.3,3788.8 L1189.8,3785.9 L1189.3,3782.9 L1188.8,3779.9 L1188.3,3777.0 L1187.9,3774.0 L1187.4,3771.1 L1186.9,3768.2 L1186.4,3765.2 L1185.9,3762.3 L1185.4,3759.3 L1184.8,3756.4 L1184.3,3753.4 L1183.8,3750.5 L1183.3,3747.5 L1182.8,3744.6 L1182.3,3741.6 L1181.8,3738.7 L1181.2,3735.7 L1180.7,3732.8 L1180.2,3729.8 L1179.7,3726.9 L1179.1,3723.9 L1178.6,3721.0 L1178.1,3718.0 L1177.5,3715.1 L1177.0,3712.2 L1176.4,3709.2 L1175.9,3706.3 L1175.3,3703.3 L1174.8,3700.4 L1174.2,3697.4 L1173.7,3694.5 L1173.1,3691.5 L1172.6,3688.6 L1172.0,3685.6 L1171.5,3682.7 L1170.9,3679.7 L1170.3,3676.8 L1169.8,3673.8 L1169.2,3670.9 L1168.6,3667.9 L1168.0,3665.0 L1167.4,3662.1 L1166.9,3659.1 L1166.3,3656.2 L1165.7,3653.2 L1165.1,3650.3 L1164.5,3647.3 L1163.9,3644.4 L1163.3,3641.4 L1162.7,3638.5 L1162.1,3635.5 L1161.5,3632.5 L1160.9,3629.6 L1160.3,3626.6 L1159.7,3623.7 L1159.1,3620.7 L1158.4,3617.8 L1157.8,3614.8 L1157.2,3611.9 L1156.6,3608.9 L1155.9,3606.0 L1155.3,3603.0 L1154.7,3600.0 L1154.0,3597.1 L1153.4,3594.1 L1152.7,3591.2 L1152.1,3588.2 L1151.4,3585.2 L1150.8,3582.3 L1150.1,3579.3 L1149.5,3576.4 L1148.8,3573.4 L1148.1,3570.4 L1147.4,3567.5 L1146.7,3564.5 L1146.0,3561.6 L1145.3,3558.6 L1144.6,3555.7 L1143.9,3552.7 L1143.2,3549.8 L1142.4,3546.9 L1141.7,3543.9 L1140.9,3541.0 L1140.1,3538.1 L1139.4,3535.2 L1138.6,3532.2 L1137.8,3529.3 L1136.9,3526.4 L1136.1,3523.5 L1135.3,3520.6 L1134.4,3517.7 L1133.5,3514.8 L1132.6,3512.0 L1131.7,3509.1 L1130.8,3506.2 L1129.9,3503.4 L1128.9,3500.5 L1128.0,3497.7 L1127.0,3494.8 L1126.0,3492.0 L1125.0,3489.2 L1123.9,3486.4 L1122.9,3483.5 L1121.8,3480.8 L1120.7,3478.0 L1119.6,3475.2 L1118.5,3472.4 L1117.3,3469.7 L1116.2,3466.9 L1115.0,3464.2 L1113.7,3461.4 L1112.5,3458.7 L1111.2,3456.0 L1109.9,3453.3 L1108.6,3450.7 L1107.3,3448.0 L1105.9,3445.3 L1104.6,3442.7 L1103.1,3440.0 L1101.7,3437.4 L1100.2,3434.8 L1098.8,3432.2 L1097.2,3429.6 L1095.7,3427.1 L1094.1,3424.5 L1092.5,3422.0 L1090.9,3419.5 L1089.2,3416.9 L1087.6,3414.5 L1085.8,3412.0 L1084.1,3409.5 L1082.3,3407.1 L1080.5,3404.7 L1078.7,3402.3 L1076.9,3399.9 L1075.0,3397.5 L1073.1,3395.2 L1071.2,3392.8 L1069.2,3390.6 L1067.2,3388.3 L1065.2,3386.0 L1063.2,3383.8 L1061.1,3381.6 L1059.1,3379.4 L1057.0,3377.3 L1054.8,3375.2 L1052.7,3373.1 L1050.5,3371.0 L1048.3,3369.0 L1046.1,3367.0 L1043.9,3365.0 L1041.6,3363.1 L1039.3,3361.2 L1037.0,3359.3 L1034.7,3357.5 L1032.3,3355.7 L1029.9,3353.9 L1027.6,3352.2 L1025.1,3350.5 L1022.7,3348.8 L1020.2,3347.2 L1017.8,3345.6 L1015.3,3344.1 L1012.8,3342.5 L1010.2,3341.1 L1007.7,3339.7 L1005.1,3338.3 L1002.5,3336.9 L999.9,3335.6 L997.3,3334.4 L994.6,3333.2 L992.0,3332.0 L989.3,3330.9 L986.6,3329.8 L983.9,3328.8 L981.2,3327.8 L978.4,3326.9 L975.7,3326.0 L972.9,3325.2 L970.1,3324.4 L967.3,3323.7 L964.5,3323.0 L961.6,3322.4 L958.8,3321.9 L955.9,3321.3 L953.0,3320.9 L950.2,3320.4 L947.2,3320.1 L944.3,3319.7 L941.4,3319.4 L938.5,3319.2 L935.5,3319.0 L932.6,3318.8 L929.6,3318.6 L926.6,3318.5 L923.6,3318.5 L920.6,3318.4 L917.6,3318.4 L914.6,3318.4 L911.6,3318.5 L908.6,3318.6 L905.5,3318.7 L902.5,3318.8 L899.4,3318.9 L896.4,3319.1 L893.3,3319.3 L890.3,3319.5 L887.2,3319.7 L884.1,3320.0 L881.1,3320.2 L878.0,3320.5 L874.9,3320.8 L871.8,3321.1 L868.7,3321.4 L865.7,3321.7 L862.6,3322.0 L859.5,3322.3 L856.4,3322.6 L853.3,3323.0 L850.2,3323.3 L847.2,3323.6 L844.1,3323.9 L841.0,3324.2 L837.9,3324.5 L834.9,3324.8 L831.8,3325.1 L828.7,3325.4 L825.7,3325.7 L822.6,3326.0 L819.6,3326.2 L816.5,3326.4 L813.5,3326.7 L810.5,3326.9 L807.4,3327.1 L804.4,3327.3 L801.4,3327.5 L798.4,3327.6 L795.3,3327.8 L792.3,3327.9 L789.3,3328.1 L786.3,3328.2 L783.3,3328.3 L780.3,3328.4 L777.3,3328.6 L774.3,3328.7 L771.3,3328.7 L768.4,3328.8 L765.4,3328.9 L762.4,3329.0 L759.4,3329.1 L756.4,3329.1 L753.5,3329.2 L750.5,3329.2 L747.5,3329.3 L744.5,3329.3 L741.6,3329.3 L738.6,3329.4 L735.6,3329.4 L732.7,3329.4 L729.7,3329.5 L726.7,3329.5 L723.7,3329.5 L720.8,3329.5 L717.8,3329.5 L714.8,3329.6 L711.9,3329.6 L708.9,3329.6 L705.9,3329.6 L703.0,3329.6 L700.0,3329.6 L697.0,3329.7 L694.1,3329.7 L691.1,3329.7 L688.1,3329.7 L685.1,3329.8 L682.2,3329.8 L679.2,3329.8 L676.2,3329.8 L673.2,3329.9 L670.2,3329.9 L667.2,3330.0 L664.3,3330.0 L661.3,3330.1 L658.3,3330.1 L655.3,3330.2 L652.3,3330.2 L649.3,3330.3 L646.3,3330.4 L643.3,3330.4 L640.3,3330.5 L637.3,3330.6 L634.3,3330.7 L631.3,3330.7 L628.3,3330.8 L625.3,3330.9 L622.3,3331.0 L619.3,3331.1 L616.3,3331.2 L613.2,3331.2 L610.2,3331.3 L607.2,3331.4 L604.2,3331.5 L601.2,3331.6 L598.2,3331.7 L595.2,3331.8 L592.1,3331.9 L589.1,3332.0 L586.1,3332.1 L583.1,3332.2 L580.1,3332.3 L577.0,3332.4 L574.0,3332.5 L571.0,3332.6 L568.0,3332.7 L565.0,3332.8 L561.9,3332.9 L558.9,3333.1 L555.9,3333.2 L552.9,3333.3 L549.8,3333.4 L546.8,3333.5 L543.8,3333.6 L540.8,3333.7 L537.8,3333.8 L534.7,3333.9 L531.7,3334.0 L528.7,3334.1 L525.7,3334.2 L522.7,3334.3 L519.6,3334.4 L516.6,3334.5 L513.6,3334.6 L510.6,3334.7 L507.6,3334.8 L504.5,3334.9 L501.5,3335.0 L498.5,3335.1 L495.5,3335.2 L492.5,3335.3 L489.5,3335.4 L486.4,3335.5 L483.4,3335.5 L480.4,3335.6 L477.4,3335.7 L474.4,3335.8 L471.4,3335.9 L468.4,3335.9 L465.4,3336.0 L462.4,3336.1 L459.4,3336.1 L456.4,3336.2 L453.4,3336.3 L450.4,3336.3 L447.4,3336.4 L444.4,3336.4 L441.4,3336.5 L438.4,3336.5 L435.4,3336.6 L432.4,3336.6 L429.4,3336.7 L426.4,3336.7 L423.4,3336.7 L420.5,3336.7 L417.5,3336.8 L414.5,3336.8 L411.5,3336.8 L408.5,3336.8 L405.6,3336.8 L402.6,3336.8 L399.6,3336.8 L396.7,3336.8 L393.7,3336.8 L390.7,3336.8 L387.8,3336.8 L384.8,3336.8 L381.8,3336.7 L378.9,3336.7 Z" fill="rgba(255,0,20,0.31)"/>
<polyline points="378.5,3201.5 382.6,3201.5 386.6,3201.5 390.7,3201.5 394.8,3201.5 398.8,3201.5 402.9,3201.5 407.0,3201.5 411.0,3201.5 415.1,3201.5 419.2,3201.5 423.2,3201.5 427.3,3201.5 431.4,3201.5 435.4,3201.5 439.5,3201.5 443.6,3201.5 447.7,3201.5 451.7,3201.5 455.8,3201.5 459.9,3201.6 463.9,3201.6 468.0,3201.6 472.1,3201.6 476.1,3201.6 480.2,3201.6 484.3,3201.6 488.3,3201.6 492.4,3201.6 496.5,3201.6 500.5,3201.6 504.6,3201.6 508.7,3201.6 512.7,3201.6 516.8,3201.7 520.9,3201.7 524.9,3201.7 529.0,3201.7 533.1,3201.7 537.1,3201.7 541.2,3201.7 545.3,3201.7 549.3,3201.8 553.4,3201.8 557.5,3201.8 561.5,3201.8 565.6,3201.8 569.7,3201.8 573.7,3201.9 577.8,3201.9 581.9,3201.9 586.0,3201.9 590.0,3201.9 594.1,3202.0 598.2,3202.0 602.2,3202.0 606.3,3202.1 610.4,3202.1 614.4,3202.1 618.5,3202.2 622.6,3202.2 626.6,3202.2 630.7,3202.3 634.8,3202.3 638.8,3202.4 642.9,3202.4 647.0,3202.4 651.0,3202.5 655.1,3202.5 659.2,3202.6 663.2,3202.7 667.3,3202.7 671.4,3202.8 675.4,3202.9 679.5,3202.9 683.6,3203.0 687.6,3203.1 691.7,3203.2 695.8,3203.2 699.8,3203.3 703.9,3203.4 708.0,3203.5 712.0,3203.6 716.1,3203.7 720.2,3203.9 724.3,3204.0 728.3,3204.1 732.4,3204.2 736.5,3204.4 740.5,3204.5 744.6,3204.7 748.7,3204.9 752.7,3205.0 756.8,3205.2 760.9,3205.4 764.9,3205.6 769.0,3205.8 773.1,3206.0 777.1,3206.2 781.2,3206.5 785.3,3206.7 789.3,3207.0 793.4,3207.3 797.5,3207.6 801.5,3207.9 805.6,3208.2 809.7,3208.6 813.7,3208.9 817.8,3209.3 821.9,3209.7 825.9,3210.1 830.0,3210.5 834.1,3211.0 838.1,3211.5 842.2,3212.0 846.3,3212.5 850.3,3213.0 854.4,3213.6 858.5,3214.2 862.6,3214.9 866.6,3215.5 870.7,3216.2 874.8,3217.0 878.8,3217.7 882.9,3218.5 887.0,3219.4 891.0,3220.3 895.1,3221.2 899.2,3222.2 903.2,3223.2 907.3,3224.3 911.4,3225.4 915.4,3226.6 919.5,3227.9 923.6,3229.2 927.6,3230.5 931.7,3232.0 935.8,3233.4 939.8,3235.0 943.9,3236.7 948.0,3238.4 952.0,3240.2 956.1,3242.1 960.2,3244.0 964.2,3246.1 968.3,3248.3 972.4,3250.5 976.4,3252.9 980.5,3255.3 984.6,3257.9 988.7,3260.6 992.7,3263.4 996.8,3266.4 1000.9,3269.5 1004.9,3272.7 1009.0,3276.0 1013.1,3279.5 1017.1,3283.2 1021.2,3287.0 1025.3,3291.0 1029.3,3295.1 1033.4,3299.4 1037.5,3303.9 1041.5,3308.6 1045.6,3313.4 1049.7,3318.5 1053.7,3323.7 1057.8,3329.2 1061.9,3334.9 1065.9,3340.7 1070.0,3346.9 1074.1,3353.2 1078.1,3359.8 1082.2,3366.6 1086.3,3373.6 1090.3,3380.9 1094.4,3388.5 1098.5,3396.3 1102.5,3404.3 1106.6,3412.7 1110.7,3421.3 1114.7,3430.1 1118.8,3439.2 1122.9,3448.6 1127.0,3458.3 1131.0,3468.2 1135.1,3478.4 1139.2,3488.9 1143.2,3499.6 1147.3,3510.6 1151.4,3521.9 1155.4,3533.4 1159.5,3545.2 1163.6,3557.2 1167.6,3569.4 1171.7,3581.9 1175.8,3594.6 1179.8,3607.5 1183.9,3620.6 1188.0,3633.9 1192.0,3647.4 1196.1,3661.0 1200.2,3674.8 1204.2,3688.7 1208.3,3702.8 1212.4,3716.9 1216.4,3731.1 1220.5,3745.3 1224.6,3759.6 1228.6,3773.9 1232.7,3788.1 1236.8,3802.4 1240.8,3816.6 1244.9,3830.7 1249.0,3844.6 1253.0,3858.5 1257.1,3872.2 1261.2,3885.7 1265.3,3899.0 1269.3,3912.1 1273.4,3924.9 1277.5,3937.4 1281.5,3949.7 1285.6,3961.6 1289.7,3973.2 1293.7,3984.5 1297.8,3995.4 1301.9,4005.9 1305.9,4016.0 1310.0,4025.7 1314.1,4035.1 1318.1,4044.0 1322.2,4052.5 1326.3,4060.6 1330.3,4068.3 1334.4,4075.6 1338.5,4082.6 1342.5,4089.1 1346.6,4095.3 1350.7,4101.1 1354.7,4106.5 1358.8,4111.6 1362.9,4116.4 1366.9,4120.9 1371.0,4125.0 1375.1,4128.9 1379.1,4132.5 1383.2,4135.9 1387.3,4139.0 1391.3,4141.9 1395.4,4144.5 1399.5,4147.0 1403.6,4149.3 1407.6,4151.4 1411.7,4153.3 1415.8,4155.1 1419.8,4156.7 1423.9,4158.2 1428.0,4159.6 1432.0,4160.9 1436.1,4162.0 1440.2,4163.1 1444.2,4164.1 1448.3,4165.0 1452.4,4165.8 1456.4,4166.6 1460.5,4167.2 1464.6,4167.9 1468.6,4168.4 1472.7,4169.0 1476.8,4169.4 1480.8,4169.9 1484.9,4170.3 1489.0,4170.6 1493.0,4171.0 1497.1,4171.3 1501.2,4171.6 1505.2,4171.8 1509.3,4172.0 1513.4,4172.2 1517.4,4172.4 1521.5,4172.6 1525.6,4172.8 1529.7,4172.9 1533.7,4173.0 1537.8,4173.2 1541.9,4173.3 1545.9,4173.4 1550.0,4173.5 1554.1,4173.5 1558.1,4173.6 1562.2,4173.7 1566.3,4173.7 1570.3,4173.8 1574.4,4173.8 1578.5,4173.9 1582.5,4173.9 1586.6,4174.0 1590.7,4174.0 1594.7,4174.0 1598.8,4174.1 1602.9,4174.1 1606.9,4174.1 1611.0,4174.1 1615.1,4174.2 1619.1,4174.2 1623.2,4174.2 1627.3,4174.2 1631.3,4174.2 1635.4,4174.2 1639.5,4174.2 1643.5,4174.3 1647.6,4174.3 1651.7,4174.3 1655.7,4174.3 1659.8,4174.3 1663.9,4174.3 1668.0,4174.3 1672.0,4174.3 1676.1,4174.3 1680.2,4174.3 1684.2,4174.3 1688.3,4174.3 1692.4,4174.3 1696.4,4174.3 1700.5,4174.3 1704.6,4174.3 1708.6,4174.3 1712.7,4174.3 1716.8,4174.3 1720.8,4174.3 1724.9,4174.3 1729.0,4174.3 1733.0,4174.3 1737.1,4174.3 1741.2,4174.3 1745.2,4174.3 1749.3,4174.3 1753.4,4174.3 1757.4,4174.3 1761.5,4174.3 1765.6,4174.3 1769.6,4174.3 1773.7,4174.3 1777.8,4174.3 1781.8,4174.3 1785.9,4174.3 1790.0,4174.3 1794.0,4174.3 1798.1,4174.3 1802.2,4174.3 1806.3,4174.3 1810.3,4174.3 1814.4,4174.3 1818.5,4174.3 1822.5,4174.3 1826.6,4174.3 1830.7,4174.3 1834.7,4174.3 1838.8,4174.3 1842.9,4174.3 1846.9,4174.3 1851.0,4174.4 1855.1,4174.4 1859.1,4174.4 1863.2,4174.4 1867.3,4174.4 1871.3,4174.4 1875.4,4174.4 1879.5,4174.4 1883.5,4174.4 1887.6,4174.4 1891.7,4174.4 1895.7,4174.4 1899.8,4174.4 1903.9,4174.4 1907.9,4174.4 1912.0,4174.4 1916.1,4174.4 1920.1,4174.4 1924.2,4174.4 1928.3,4174.4 1932.3,4174.4 1936.4,4174.4 1940.5,4174.4 1944.6,4174.4 1948.6,4174.4 1952.7,4174.4 1956.8,4174.4 1960.8,4174.4 1964.9,4174.4 1969.0,4174.4 1973.0,4174.4 1977.1,4174.4 1981.2,4174.4 1985.2,4174.4 1989.3,4174.4 1993.4,4174.4 1997.4,4174.4 2001.5,4174.4" fill="none" stroke="#d0001a" stroke-width="3.9"/>
<rect x="323.2" y="3090.2" width="518.0" height="72" fill="#fff"/><text x="326.2" y="3147.2" font-style="italic" font-size="66.5" textLength="512.0" lengthAdjust="spacingAndGlyphs">S. chlorohalonata</text>
<text x="1162.6" y="3166.0" font-style="italic" font-size="66.5" textLength="477.8" lengthAdjust="spacingAndGlyphs">P. chrysogenum</text>
<rect x="692.6" y="3284.4" width="273.3" height="72" fill="#fff"/><text x="695.6" y="3341.4" font-style="italic" font-size="66.5" textLength="267.3" lengthAdjust="spacingAndGlyphs">G. butleri</text>
<text x="1147.3" y="3392.3" font-style="italic" font-size="66.5" textLength="257.1" lengthAdjust="spacingAndGlyphs">T. reesei</text>
<text x="1260.4" y="3609.8" font-style="italic" font-size="66.5" textLength="368.0" lengthAdjust="spacingAndGlyphs">S. commune</text>
<rect x="739.9" y="4145.0" width="540.2" height="72" fill="#fff"/><text x="742.9" y="4202.0" font-style="italic" font-size="66.5" textLength="534.2" lengthAdjust="spacingAndGlyphs">S. rugosoannulata</text>
<rect x="1835.9" y="4059.9" width="334.4" height="72" fill="#fff"/><text x="1838.9" y="4116.9" font-style="italic" font-size="66.5" textLength="328.4" lengthAdjust="spacingAndGlyphs">G. trabeum</text>
<path d="M287.5,3056.0 V4436.0 H2167.0" fill="none" stroke="#000" stroke-width="5.0" stroke-linecap="round" stroke-linejoin="miter"/>
<path d="M357.5,4436.0 v24.5 M741.9,4436.0 v24.5 M1126.3,4436.0 v24.5 M1510.7,4436.0 v24.5 M1895.1,4436.0 v24.5 M2120.0,4436.0 v24.5 M415.9,4436.0 v11.5 M468.8,4436.0 v11.5 M517.0,4436.0 v11.5 M561.4,4436.0 v11.5 M602.5,4436.0 v11.5 M640.8,4436.0 v11.5 M676.6,4436.0 v11.5 M710.2,4436.0 v11.5 M800.3,4436.0 v11.5 M853.2,4436.0 v11.5 M901.4,4436.0 v11.5 M945.8,4436.0 v11.5 M986.9,4436.0 v11.5 M1025.2,4436.0 v11.5 M1061.0,4436.0 v11.5 M1094.6,4436.0 v11.5 M1184.7,4436.0 v11.5 M1237.6,4436.0 v11.5 M1285.8,4436.0 v11.5 M1330.2,4436.0 v11.5 M1371.3,4436.0 v11.5 M1409.6,4436.0 v11.5 M1445.4,4436.0 v11.5 M1479.0,4436.0 v11.5 M1569.1,4436.0 v11.5 M1622.0,4436.0 v11.5 M1670.2,4436.0 v11.5 M1714.6,4436.0 v11.5 M1755.7,4436.0 v11.5 M1794.0,4436.0 v11.5 M1829.8,4436.0 v11.5 M1863.4,4436.0 v11.5 M1925.1,4436.0 v11.5 M1953.5,4436.0 v11.5 M1980.6,4436.0 v11.5 M2006.4,4436.0 v11.5 M2031.0,4436.0 v11.5 M2054.6,4436.0 v11.5 M2077.3,4436.0 v11.5 M2099.0,4436.0 v11.5 M287.5,4368.9 h-11.5 M287.5,4282.6 h-11.5 M287.5,4215.6 h-11.5 M287.5,4160.8 h-11.5 M287.5,4114.6 h-11.5 M287.5,4074.5 h-11.5 M287.5,4039.1 h-11.5 M287.5,4007.5 h-24.5 M287.5,3799.4 h-11.5 M287.5,3677.7 h-11.5 M287.5,3591.4 h-11.5 M287.5,3524.4 h-11.5 M287.5,3469.6 h-11.5 M287.5,3423.4 h-11.5 M287.5,3383.3 h-11.5 M287.5,3347.9 h-11.5 M287.5,3316.3 h-24.5 M287.5,3108.2 h-11.5" stroke="#000" stroke-width="5.0" stroke-linecap="round" fill="none"/>
<text x="240" y="3337.3" text-anchor="end" font-size="74">1</text>
<text x="240" y="4028.5" text-anchor="end" font-size="74">0.1</text>
<text x="357.5" y="4540.5" text-anchor="middle" font-size="74">25</text>
<text x="741.9" y="4540.5" text-anchor="middle" font-size="74">50</text>
<text x="1126.3" y="4540.5" text-anchor="middle" font-size="74">100</text>
<text x="1510.7" y="4540.5" text-anchor="middle" font-size="74">200</text>
<text x="1895.1" y="4540.5" text-anchor="middle" font-size="74">400</text>
<text x="2120.0" y="4540.5" text-anchor="middle" font-size="74">600</text>
<text transform="translate(2075,207.0) scale(1.0,1)" text-anchor="middle" font-weight="bold" font-size="124">A</text>
<text transform="translate(2079.7,1701.0) scale(0.84,1)" text-anchor="middle" font-weight="bold" font-size="124">B</text>
<text transform="translate(2080.9,3205.5) scale(0.8,1)" text-anchor="middle" font-weight="bold" font-size="124">C</text>
<text transform="translate(112,746) rotate(-90)" text-anchor="middle" font-size="73"><tspan font-style="italic">t</tspan><tspan font-style="italic" font-size="51.1" dy="21">AMGR</tspan><tspan dy="-21"> (d)</tspan></text>
<text transform="translate(125.5,2248) rotate(-90)" text-anchor="middle" font-size="73"><tspan font-style="italic">AMGR</tspan> (mg/d)</text>
<text transform="translate(105.3,3742) rotate(-90)" text-anchor="middle" font-size="73"><tspan font-style="italic">CGP</tspan> (mg/d<tspan font-size="51.1" dy="-28">2</tspan><tspan dy="28">)</tspan></text>
<text x="1227" y="4661.9" text-anchor="middle" font-size="73"><tspan font-style="italic">Y</tspan><tspan font-style="italic" font-size="51.1" dy="21">Q/X</tspan><tspan dy="-21"> (kJ/g)</tspan></text>
</svg>
</body></html>
